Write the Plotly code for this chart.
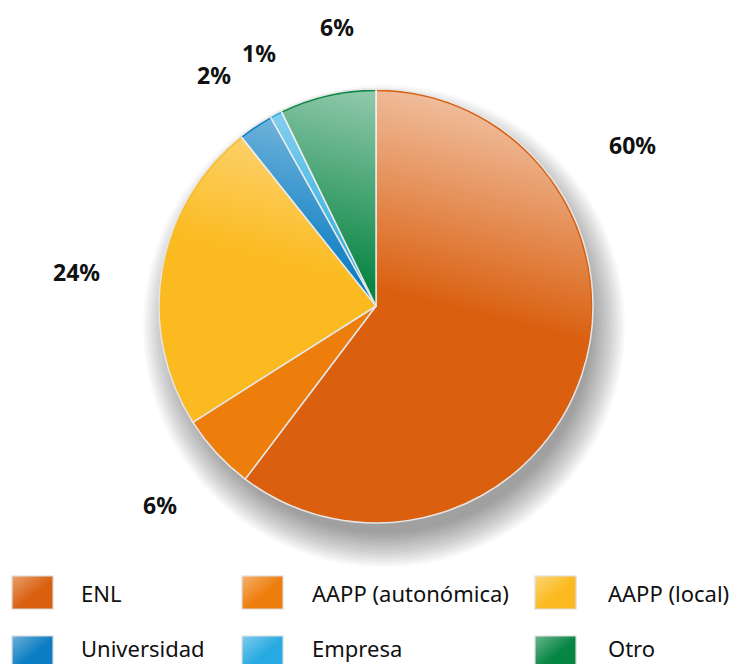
import base64
import plotly.graph_objects as go

# ---------------- data ----------------
categories = ["ENL", "AAPP (autonómica)", "AAPP (local)", "Universidad", "Empresa", "Otro"]
shares = [60.3, 5.7, 23.3, 2.6, 0.9, 7.2]
pct_labels = ["60%", "6%", "24%", "2%", "1%", "6%"]

# ---------------- styling / layout ----------------
colors = ["#DA6010", "#EE7E0C", "#FBBA1F", "#0B7DC2", "#27AAE1", "#078543"]
W, H = 745, 664
CX, CY, R = 376, 306, 217
# label positions (pixel centres) for the percentage texts
label_pos = [(632, 145), (160, 505), (76, 272), (214, 75), (259, 53), (337, 27)]
# legend grid
icon_x = [12, 242, 535]
text_x = [79, 310, 606]
row_y = [592.5, 652.5]
text_row_y = [592.5, 648]
ICON_W, ICON_H = 41, 33

FONT = "Noto Sans"


def px(x):
    return x / W


def py(y):
    return 1 - y / H


def dom(cx, cy, r):
    return dict(x=[px(cx - r), px(cx + r)], y=[py(cy + r), py(cy - r)])


fig = go.Figure()

# soft drop shadow (stacked translucent discs)
for rr in range(R - 10, R + 26, 2):
    fig.add_trace(go.Pie(
        values=[1], labels=["shadow"], sort=False,
        marker=dict(colors=["rgba(0,0,0,0.022)"], line=dict(width=0)),
        textinfo="none", hoverinfo="skip", showlegend=False,
        domain=dom(CX + 8, CY + 20, rr),
    ))

# main pie
fig.add_trace(go.Pie(
    labels=categories, values=shares, text=pct_labels,
    sort=False, direction="clockwise", rotation=0,
    marker=dict(colors=colors, line=dict(color="#E6E6E6", width=1.5)),
    textinfo="none", hovertemplate="%{label}: %{text}<extra></extra>",
    showlegend=False, domain=dom(CX, CY, R),
))

# light sheen over the top of the pie
svg = (
    "<svg xmlns='http://www.w3.org/2000/svg' width='200' height='200' viewBox='0 0 200 200'>"
    "<defs><linearGradient id='g' x1='0.7' y1='0' x2='0.45' y2='1'>"
    "<stop offset='0' stop-color='white' stop-opacity='0.62'/>"
    "<stop offset='0.48' stop-color='white' stop-opacity='0'/>"
    "</linearGradient></defs>"
    "<circle cx='100' cy='100' r='99' fill='url(#g)'/></svg>"
)
sheen = "data:image/svg+xml;base64," + base64.b64encode(svg.encode()).decode()

icon_svg = (
    "<svg xmlns='http://www.w3.org/2000/svg' width='41' height='33' viewBox='0 0 41 33'>"
    "<defs><linearGradient id='g' x1='0' y1='0' x2='1' y2='1'>"
    "<stop offset='0' stop-color='white' stop-opacity='0.4'/>"
    "<stop offset='0.55' stop-color='white' stop-opacity='0'/>"
    "</linearGradient></defs>"
    "<rect x='0' y='0' width='41' height='33' fill='url(#g)'/></svg>"
)
icon_sheen = "data:image/svg+xml;base64," + base64.b64encode(icon_svg.encode()).decode()

images = [dict(source=sheen, xref="paper", yref="paper",
               x=px(CX - R), y=py(CY - R), sizex=2 * R / W, sizey=2 * R / H,
               xanchor="left", yanchor="top", sizing="stretch", layer="above")]

annotations = []
for t, (lx, ly) in zip(pct_labels, label_pos):
    annotations.append(dict(
        text=f"<b>{t}</b>", x=px(lx), y=py(ly), xref="paper", yref="paper",
        showarrow=False, xanchor="center", yanchor="middle",
        font=dict(family=FONT, size=23, color="#111111"),
    ))

shapes = []
for i, (cat, col) in enumerate(zip(categories, colors)):
    r, c = divmod(i, 3)
    yc = row_y[r]
    x0, x1 = icon_x[c], icon_x[c] + ICON_W
    y0, y1 = yc - ICON_H / 2, yc + ICON_H / 2
    shapes.append(dict(type="rect", xref="paper", yref="paper",
                       x0=px(x0), x1=px(x1), y0=py(y1), y1=py(y0),
                       fillcolor=col, line=dict(color="#D9D9D9", width=1.2),
                       layer="below"))
    images.append(dict(source=icon_sheen, xref="paper", yref="paper",
                       x=px(x0), y=py(y0), sizex=ICON_W / W, sizey=ICON_H / H,
                       xanchor="left", yanchor="top", sizing="stretch", layer="above"))
    annotations.append(dict(
        text=cat, x=px(text_x[c]), y=py(text_row_y[r]), xref="paper", yref="paper",
        showarrow=False, xanchor="left", yanchor="middle",
        font=dict(family=FONT, size=22, color="#111111"),
    ))

fig.update_layout(
    width=W, height=H,
    margin=dict(l=0, r=0, t=0, b=0),
    paper_bgcolor="white", plot_bgcolor="white",
    showlegend=False,
    annotations=annotations, shapes=shapes, images=images,
)

fig.write_html("out.html", config={"displayModeBar": False},
               post_script="document.body.style.margin='0';")
